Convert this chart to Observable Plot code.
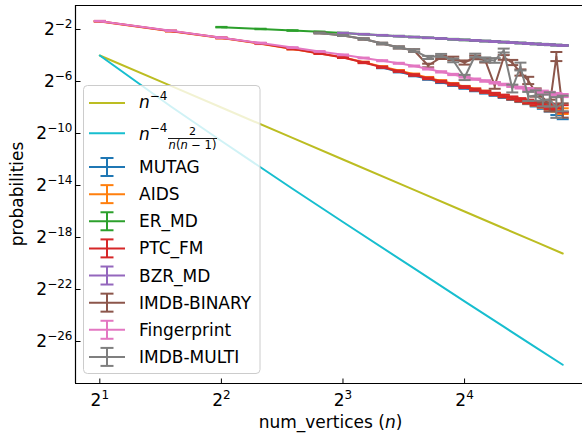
<!DOCTYPE html>
<html>
<head>
<meta charset="utf-8">
<script src="https://cdn.jsdelivr.net/npm/d3@7"></script>
<script src="https://cdn.jsdelivr.net/npm/@observablehq/plot@0.6"></script>
<style>
  html, body { margin: 0; padding: 0; background: #fff; }
</style>
</head>
<body>
<div id="chart"></div>
<script>
// ---------- data (exponents of 2) ----------
const xTicks = [2, 4, 8, 16];
const yTickExps = [-2, -6, -10, -14, -18, -22, -26];

const refN = [2, 3, 4, 6, 8, 12, 16, 20, 24, 28];
const quarticExp = [-4, -6.34, -8, -10.34, -12, -14.34, -16, -17.29, -18.34, -19.23];          // n^-4
const pairExp    = [-4, -7.92, -10.58, -14.25, -16.81, -20.38, -22.91, -24.86, -26.45, -27.79]; // n^-4 * 2/(n(n-1))

const seriesNames = ["MUTAG", "AIDS", "ER_MD", "PTC_FM", "BZR_MD", "IMDB-BINARY", "Fingerprint", "IMDB-MULTI"];
const seriesStart = [10, 2, 4, 2, 8, 7, 2, 7];

const mutagExp = [-4.93,-5.25,-5.55,-5.81,-6.06,-6.28,-6.49,-6.68,-6.85,-7.02,-7.17,-7.32,-7.47,-7.62,-7.78,-7.94,-8.12,-8.35,-8.62];
const mutagErr = [0.05,0.05,0.05,0.06,0.06,0.06,0.07,0.07,0.08,0.08,0.09,0.10,0.11,0.12,0.14,0.16,0.19,0.23,0.28];

const aidsExp = [-1.38,-2.13,-2.66,-3.09,-3.50,-3.85,-4.14,-4.52,-4.86,-5.16,-5.44,-5.70,-5.95,-6.18,-6.40,-6.60,-6.78,-6.96,-7.12,-7.28,-7.43,-7.58,-7.72,-7.86,-7.99,-8.12,-8.28];
const aidsErr = [0.02,0.02,0.03,0.03,0.03,0.03,0.04,0.04,0.04,0.04,0.05,0.05,0.05,0.06,0.06,0.06,0.07,0.07,0.08,0.09,0.10,0.11,0.13,0.15,0.17,0.19,0.22];

const erExp = [-1.82,-1.96,-2.08,-2.18,-2.27,-2.36,-2.44,-2.51,-2.58,-2.64,-2.69,-2.75,-2.80,-2.84,-2.89,-2.93,-2.97,-3.01,-3.04,-3.08,-3.11,-3.14,-3.17,-3.20,-3.23];
const erErr = [0.02,0.02,0.02,0.02,0.02,0.02,0.02,0.02,0.02,0.02,0.02,0.03,0.03,0.03,0.03,0.03,0.03,0.03,0.03,0.03,0.03,0.03,0.03,0.03,0.03];

const ptcExp = [-1.36,-2.11,-2.64,-3.07,-3.49,-3.84,-4.15,-4.54,-4.90,-5.21,-5.50,-5.76,-6.00,-6.22,-6.43,-6.62,-6.79,-6.96,-7.11,-7.26,-7.40,-7.54,-7.67,-7.79,-7.91,-8.02,-8.10];
const ptcErr = [0.02,0.03,0.03,0.03,0.04,0.04,0.04,0.05,0.05,0.05,0.06,0.06,0.06,0.07,0.07,0.08,0.08,0.09,0.10,0.11,0.12,0.14,0.16,0.18,0.21,0.24,0.28];

const bzrExp = [-2.27,-2.36,-2.44,-2.51,-2.58,-2.64,-2.69,-2.75,-2.80,-2.84,-2.89,-2.93,-2.97,-3.01,-3.04,-3.08,-3.11,-3.14,-3.17,-3.20,-3.23];
const bzrErr = [0.02,0.02,0.02,0.02,0.02,0.02,0.02,0.02,0.02,0.02,0.03,0.03,0.03,0.03,0.03,0.03,0.03,0.03,0.03,0.03,0.03];

const imdbBinaryExp = [-2.27,-2.46,-2.73,-3.08,-3.38,-3.62,-4.77,-4.15,-4.23,-4.54,-4.15,-4.38,-6.31,-4.15,-4.54,-5.31,-5.92,-6.85,-7.23,-7.85,-4.08,-8.23];
const imdbBinaryErr = [0.03,0.04,0.05,0.06,0.08,0.10,0.14,0.12,0.14,0.16,0.14,0.16,0.25,0.18,0.20,0.24,0.28,0.32,0.38,0.45,0.35,0.55];

const fingerprintExp = [-1.36,-2.10,-2.63,-3.04,-3.39,-3.69,-3.95,-4.19,-4.40,-4.60,-4.81,-5.04,-5.26,-5.46,-5.65,-5.82,-5.96,-6.10,-6.23,-6.35,-6.47,-6.58,-6.69,-6.79,-6.89,-6.99,-7.08];
const fingerprintErr = [0.02,0.02,0.03,0.03,0.03,0.03,0.03,0.03,0.04,0.04,0.04,0.04,0.05,0.05,0.05,0.05,0.06,0.06,0.06,0.07,0.07,0.08,0.08,0.09,0.10,0.11,0.12];

const imdbMultiExp = [-2.27,-2.46,-2.73,-3.08,-3.38,-3.62,-4.15,-4.00,-4.38,-5.69,-4.00,-4.31,-4.38,-3.62,-6.54,-4.85,-7.15,-7.08,-7.46,-7.38,-8.00,-7.69];
const imdbMultiErr = [0.03,0.04,0.05,0.06,0.08,0.10,0.12,0.12,0.14,0.20,0.14,0.16,0.18,0.15,0.30,0.30,0.35,0.40,0.45,0.55,0.80,0.60];

const seriesExps = [mutagExp, aidsExp, erExp, ptcExp, bzrExp, imdbBinaryExp, fingerprintExp, imdbMultiExp];
const seriesErrs = [mutagErr, aidsErr, erErr, ptcErr, bzrErr, imdbBinaryErr, fingerprintErr, imdbMultiErr];

// ---------- styles ----------
const seriesColors = ["#1f77b4", "#ff7f0e", "#2ca02c", "#d62728", "#9467bd", "#8c564b", "#e377c2", "#7f7f7f"];
const quarticColor = "#bcbd22";
const pairColor = "#17becf";

// ---------- build tables ----------
const quarticRows = refN.map((n, i) => ({n, e: quarticExp[i]}));
const pairRows = refN.map((n, i) => ({n, e: pairExp[i]}));
const seriesRows = seriesNames.map((name, s) =>
  seriesExps[s].map((e, i) => ({name, n: seriesStart[s] + i, e, err: seriesErrs[s][i]})));

const yTicks = yTickExps.map(e => 2 ** e);
const xDomain = [2 ** 0.800, 2 ** 4.970];
const yDomain = [2 ** -29.23, 2 ** -0.154];

const capSymbol = {draw(ctx, size) { const w = Math.sqrt(size / Math.PI); ctx.moveTo(-w, 0); ctx.lineTo(w, 0); }};
const xTickSymbol = {draw(ctx, size) { const l = Math.sqrt(size / Math.PI); ctx.moveTo(0, 0); ctx.lineTo(0, -l); }};
const yTickSymbol = {draw(ctx, size) { const l = Math.sqrt(size / Math.PI); ctx.moveTo(0, 0); ctx.lineTo(l, 0); }};

const marks = [
  Plot.line(quarticRows, {x: "n", y: d => 2 ** d.e, stroke: quarticColor, strokeWidth: 2}),
  Plot.line(pairRows, {x: "n", y: d => 2 ** d.e, stroke: pairColor, strokeWidth: 2})
];
seriesRows.forEach((rows, s) => {
  const c = seriesColors[s];
  marks.push(
    Plot.line(rows, {x: "n", y: d => 2 ** d.e, stroke: c, strokeWidth: 2}),
    Plot.ruleX(rows, {x: "n", y1: d => 2 ** (d.e - d.err), y2: d => 2 ** (d.e + d.err), stroke: c, strokeWidth: 2}),
    Plot.dot(rows, {x: "n", y: d => 2 ** (d.e + d.err), symbol: capSymbol, r: 6, stroke: c, fill: "none", strokeWidth: 2}),
    Plot.dot(rows, {x: "n", y: d => 2 ** (d.e - d.err), symbol: capSymbol, r: 6, stroke: c, fill: "none", strokeWidth: 2})
  );
});
marks.push(
  Plot.dot(xTicks, {x: d => d, frameAnchor: "bottom", symbol: xTickSymbol, r: 5, stroke: "black", fill: "none", strokeWidth: 1}),
  Plot.dot(yTicks, {y: d => d, frameAnchor: "left", symbol: yTickSymbol, r: 5, stroke: "black", fill: "none", strokeWidth: 1}),
  Plot.ruleY(yDomain, {stroke: "black", strokeWidth: 1.2}),
  Plot.ruleX([xDomain[0]], {stroke: "black", strokeWidth: 1.2}),
  Plot.axisX(xTicks, {tickSize: 0, tickPadding: 10, tickFormat: d => "2|" + Math.round(Math.log2(d)), label: null, fill: "black"}),
  Plot.axisY(yTicks, {tickSize: 0, tickPadding: 3, tickFormat: d => "2|" + Math.round(Math.log2(d)), label: null, fill: "black"})
);

const chart = Plot.plot({
  width: 582,
  height: 436,
  marginLeft: 75,
  marginRight: 0,
  marginTop: 5,
  marginBottom: 53,
  style: {fontFamily: "DejaVu Sans", fontSize: "17px", background: "white", color: "black"},
  x: {type: "log", base: 2, domain: xDomain},
  y: {type: "log", base: 2, domain: yDomain},
  marks
});
document.getElementById("chart").appendChild(chart);

const svg = d3.select(chart);

// superscript tick labels
function superscriptify(selection) {
  selection.each(function() {
    const parts = this.textContent.split("|");
    const t = d3.select(this);
    t.text(null);
    t.append("tspan").text(parts[0]);
    t.append("tspan").attr("dy", -7).attr("font-size", 12).text(parts[1].replace("-", "\u2212"));
  });
}
superscriptify(svg.selectAll('g[aria-label="x-axis tick label"] text'));
superscriptify(svg.selectAll('g[aria-label="y-axis tick label"] text'));

// axis labels
const xl = svg.append("text").attr("x", 330.5).attr("y", 428).attr("text-anchor", "middle")
  .attr("font-family", "DejaVu Sans").attr("font-size", 17).attr("fill", "black");
xl.append("tspan").text("num_vertices (");
xl.append("tspan").attr("font-style", "italic").text("n");
xl.append("tspan").text(")");

svg.append("text").attr("transform", "translate(23,194) rotate(-90)").attr("text-anchor", "middle")
  .attr("font-family", "DejaVu Sans").attr("font-size", 17).attr("fill", "black").text("probabilities");

// legend
const lg = svg.append("g").attr("font-family", "DejaVu Sans").attr("fill", "black").attr("text-anchor", "start");
lg.append("rect").attr("x", 83.5).attr("y", 85.5).attr("width", 176.5).attr("height", 288)
  .attr("rx", 4).attr("fill", "white").attr("fill-opacity", 0.8).attr("stroke", "#cccccc").attr("stroke-width", 1);

// row: n^-4
lg.append("line").attr("x1", 89).attr("x2", 125).attr("y1", 103).attr("y2", 103)
  .attr("stroke", quarticColor).attr("stroke-width", 2);
const r1 = lg.append("text").attr("x", 139).attr("y", 108).attr("font-size", 17).attr("text-anchor", "start");
r1.append("tspan").attr("font-style", "italic").text("n");
r1.append("tspan").attr("dy", -8).attr("font-size", 12).text("\u22124");

// row: n^-4 * 2/(n(n-1))
lg.append("line").attr("x1", 89).attr("x2", 125).attr("y1", 133.3).attr("y2", 133.3)
  .attr("stroke", pairColor).attr("stroke-width", 2);
const r2 = lg.append("text").attr("x", 139).attr("y", 140).attr("font-size", 17).attr("text-anchor", "start");
r2.append("tspan").attr("font-style", "italic").text("n");
r2.append("tspan").attr("dy", -8).attr("font-size", 12).text("\u22124");
lg.append("text").attr("x", 192.5).attr("y", 135).attr("font-size", 11).attr("text-anchor", "middle").text("2");
lg.append("line").attr("x1", 168).attr("x2", 217).attr("y1", 138.5).attr("y2", 138.5)
  .attr("stroke", "black").attr("stroke-width", 0.9);
const den = lg.append("text").attr("x", 192.5).attr("y", 149).attr("font-size", 11.5).attr("text-anchor", "middle");
den.append("tspan").attr("font-style", "italic").text("n");
den.append("tspan").text("(");
den.append("tspan").attr("font-style", "italic").text("n");
den.append("tspan").text(" \u2212 1)");

// errorbar rows
seriesNames.forEach((name, s) => {
  const y = 167 + 27.13 * s;
  const c = seriesColors[s];
  lg.append("line").attr("x1", 89).attr("x2", 125).attr("y1", y).attr("y2", y).attr("stroke", c).attr("stroke-width", 2);
  lg.append("line").attr("x1", 107).attr("x2", 107).attr("y1", y - 9).attr("y2", y + 9).attr("stroke", c).attr("stroke-width", 2);
  lg.append("line").attr("x1", 100.5).attr("x2", 113.5).attr("y1", y - 9).attr("y2", y - 9).attr("stroke", c).attr("stroke-width", 2);
  lg.append("line").attr("x1", 100.5).attr("x2", 113.5).attr("y1", y + 9).attr("y2", y + 9).attr("stroke", c).attr("stroke-width", 2);
  lg.append("text").attr("x", 139).attr("y", y + 6).attr("font-size", 17).attr("text-anchor", "start").text(name);
});
</script>
</body>
</html>
